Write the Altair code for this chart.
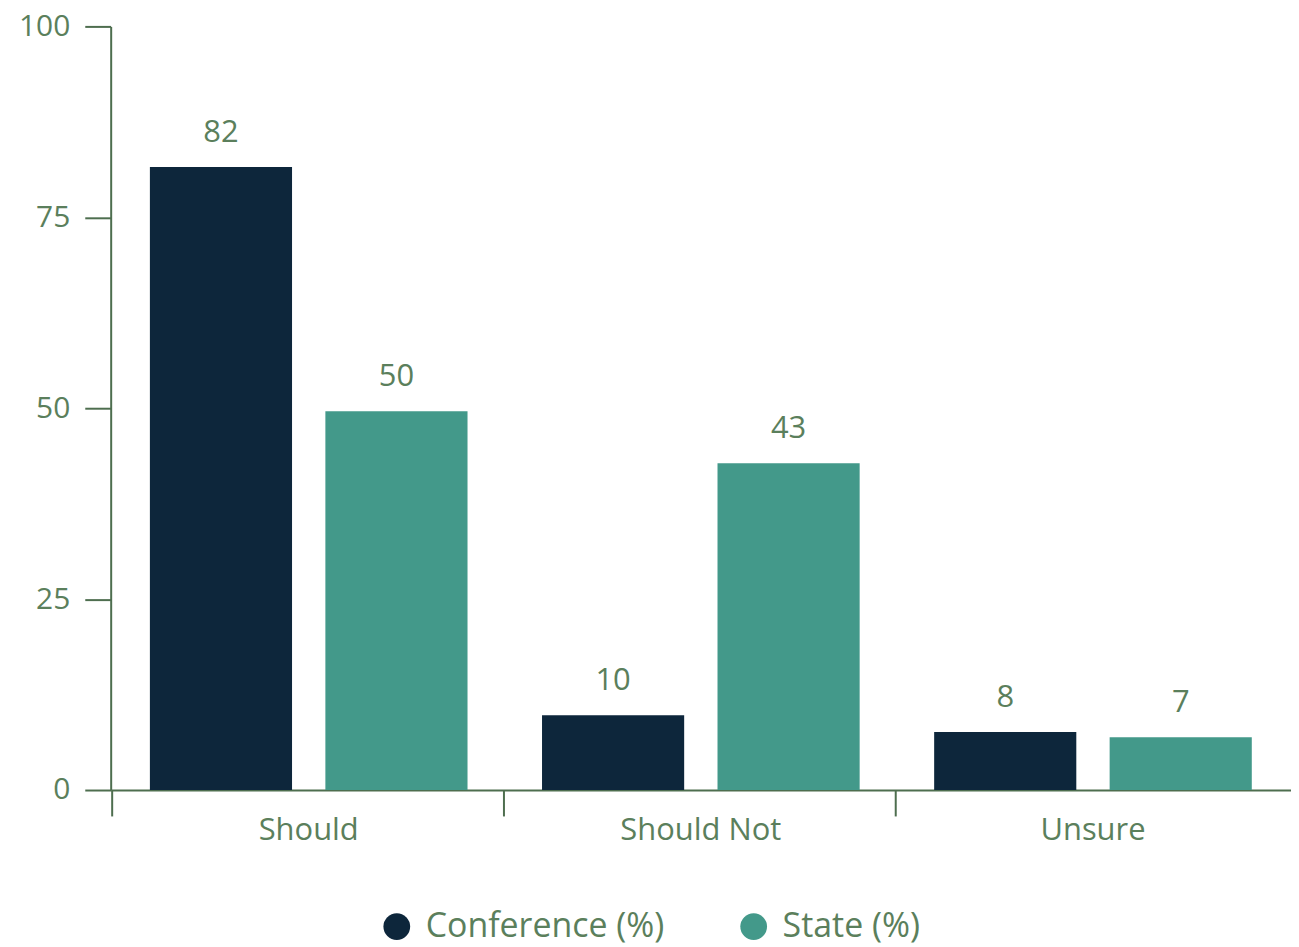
import altair as alt
import pandas as pd

categories = ["Should", "Should Not", "Unsure"]
conference = [81.6, 9.8, 7.6]
state = [49.6, 42.8, 6.9]
series_names = ["Conference (%)", "State (%)"]
colors = ["#0d263b", "#43998a"]

rows = []
for i, c in enumerate(categories):
    rows.append({"category": c, "series": series_names[0], "value": conference[i]})
    rows.append({"category": c, "series": series_names[1], "value": state[i]})
df = pd.DataFrame(rows)

TXT = "#5b7f5c"
AX = "#4e6e4f"
FONT = "Open Sans"

x = alt.X("category:N", sort=categories, title=None,
          scale=alt.Scale(paddingInner=0.19, paddingOuter=0.1),
          axis=alt.Axis(labelAngle=0, bandPosition=-0.12, tickSize=26, tickWidth=2,
                        domainWidth=2, domainColor=AX, tickColor=AX,
                        labelColor=TXT, labelFont=FONT, labelFontSize=31,
                        labelPadding=0))
xo = alt.XOffset("series:N", sort=series_names,
                 scale=alt.Scale(paddingInner=0.19, paddingOuter=0))
y = alt.Y("value:Q", title=None,
          scale=alt.Scale(domain=[0, 100]),
          axis=alt.Axis(values=[0, 25, 50, 75, 100], grid=False, tickSize=26,
                        tickWidth=2, domainWidth=2, domainColor=AX, tickColor=AX,
                        labelColor=TXT, labelFont=FONT, labelFontSize=30,
                        labelPadding=15))

bars = alt.Chart(df).mark_bar().encode(
    x=x, xOffset=xo, y=y,
    color=alt.Color("series:N", sort=series_names,
                    scale=alt.Scale(domain=series_names, range=colors),
                    legend=alt.Legend(title=None, orient="none", direction="horizontal",
                                      legendX=270, legendY=886,
                                      symbolType="circle", symbolSize=720,
                                      symbolStrokeWidth=0, labelFont=FONT,
                                      labelFontSize=34, labelColor=TXT,
                                      labelLimit=400,
                                      columnPadding=72, labelOffset=12,
                                      symbolOpacity=1)),
)

labels = alt.Chart(df).mark_text(dy=-34, font=FONT, fontSize=31, color=TXT).encode(
    x=alt.X("category:N", sort=categories),
    xOffset=alt.XOffset("series:N", sort=series_names),
    y="value:Q",
    text=alt.Text("value:Q", format=".0f"),
)

chart = alt.layer(bars, labels).properties(
    width=1184, height=766,
    padding={"left": 10, "top": 2, "right": 0, "bottom": 0},
).configure_view(stroke=None)

chart.save("out.html", embed_options={"renderer": "svg", "actions": False})
